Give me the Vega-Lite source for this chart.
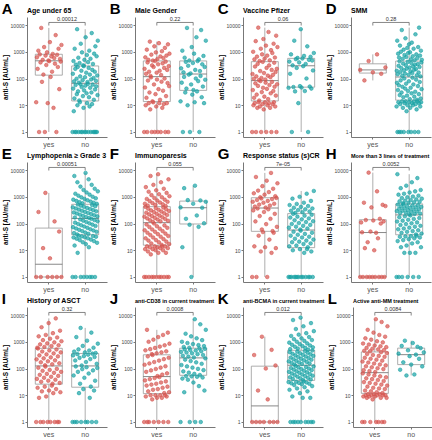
{
"$schema": "https://vega.github.io/schema/vega-lite/v6.json",
"padding": {"left": 1, "top": 2, "right": 0, "bottom": 0},
"background": "white",
"config": {
 "font": "Liberation Sans",
 "view": {"stroke": null},
 "concat": {"spacing": 2},
 "scale": {"bandPaddingInner": 0, "bandPaddingOuter": 0.1},
 "range": {"category": ["#19a3a5", "#d65550"]},
 "title": {"anchor": "start", "frame": "group", "fontSize": 7, "fontWeight": "bold", "color": "#000", "offset": -11.8, "baseline": "alphabetic"},
 "axis": {"grid": false, "domainColor": "#777", "tickColor": "#777", "tickSize": 2},
 "axisY": {"labelFontSize": 5, "labelColor": "#444", "labelPadding": 1, "titleFontSize": 6.5, "titleColor": "#000", "titleFontWeight": "bold", "titlePadding": 2},
 "axisX": {"labelFontSize": 7, "labelColor": "#555", "labelAngle": 0, "labelPadding": 1},
 "boxplot": {"extent": "min-max", "size": 27, "outliers": false, "box": {"fill": "white", "stroke": "#999", "strokeWidth": 0.8}, "median": {"color": "#555", "strokeWidth": 1.2}, "rule": {"color": "#999", "strokeWidth": 0.8}},
 "circle": {"size": 13, "fillOpacity": 0.7, "strokeWidth": 0.6},
 "style": {"br": {"color": "#555", "strokeWidth": 0.7}, "pv": {"fontSize": 5.5, "color": "#333", "baseline": "alphabetic", "dy": -1.7}, "lt": {"fontSize": 15, "fontWeight": "bold", "color": "#000", "align": "left", "baseline": "alphabetic", "dx": -29, "dy": -2.7}}
},
"datasets": {
"A": [{"g":"yes","v":13},{"g":"yes","v":620},{"g":"yes","v":230},{"g":"yes","v":1100},{"g":"yes","v":1},{"g":"yes","v":800},{"g":"yes","v":400},{"g":"yes","v":7800},{"g":"yes","v":75},{"g":"yes","v":500},{"g":"yes","v":140},{"g":"yes","v":1500},{"g":"yes","v":1},{"g":"yes","v":720},{"g":"yes","v":320},{"g":"yes","v":950},{"g":"yes","v":12},{"g":"yes","v":475},{"g":"yes","v":445},{"g":"yes","v":2300},{"g":"yes","v":115},{"g":"yes","v":670},{"g":"yes","v":180},{"g":"yes","v":830},{"g":"yes","v":8},{"g":"yes","v":580},{"g":"yes","v":360},{"g":"yes","v":4200},{"g":"yes","v":1},{"g":"yes","v":770},{"g":"yes","v":270},{"g":"yes","v":1300},{"g":"yes","v":40},{"g":"yes","v":540},{"g":"yes","v":430},{"g":"yes","v":1800},
{"g":"no","v":1},{"g":"no","v":150},{"g":"no","v":42},{"g":"no","v":450},{"g":"no","v":6},{"g":"no","v":78},{"g":"no","v":18},{"g":"no","v":1300},{"g":"no","v":1},{"g":"no","v":230},{"g":"no","v":57},{"g":"no","v":330},{"g":"no","v":1},{"g":"no","v":98},{"g":"no","v":26},{"g":"no","v":7000},{"g":"no","v":10},{"g":"no","v":270},{"g":"no","v":33},{"g":"no","v":600},{"g":"no","v":1},{"g":"no","v":70},{"g":"no","v":15},{"g":"no","v":380},{"g":"no","v":13},{"g":"no","v":120},{"g":"no","v":61},{"g":"no","v":2000},{"g":"no","v":1},{"g":"no","v":195},{"g":"no","v":48},{"g":"no","v":950},{"g":"no","v":1},{"g":"no","v":87},{"g":"no","v":22},{"g":"no","v":310},{"g":"no","v":8},{"g":"no","v":290},{"g":"no","v":36},{"g":"no","v":500},{"g":"no","v":1},{"g":"no","v":112},{"g":"no","v":54},{"g":"no","v":3500},{"g":"no","v":1},{"g":"no","v":165},{"g":"no","v":28},{"g":"no","v":760},{"g":"no","v":12},{"g":"no","v":74},{"g":"no","v":63},{"g":"no","v":410},{"g":"no","v":1},{"g":"no","v":250},{"g":"no","v":20},{"g":"no","v":1100},{"g":"no","v":9},{"g":"no","v":140},{"g":"no","v":45},{"g":"no","v":550},{"g":"no","v":1},{"g":"no","v":92},{"g":"no","v":30},{"g":"no","v":5000},{"g":"no","v":11},{"g":"no","v":210},{"g":"no","v":59},{"g":"no","v":350},{"g":"no","v":1},{"g":"no","v":105},{"g":"no","v":16},{"g":"no","v":850},{"g":"no","v":1},{"g":"no","v":180},{"g":"no","v":39},{"g":"no","v":1600},{"g":"no","v":1},{"g":"no","v":82},{"g":"no","v":51},{"g":"no","v":680},{"g":"no","v":1},{"g":"no","v":130},{"g":"no","v":24},{"g":"no","v":2600}],
"B": [{"g":"yes","v":1},{"g":"yes","v":230},{"g":"yes","v":46},{"g":"yes","v":620},{"g":"yes","v":10},{"g":"yes","v":150},{"g":"yes","v":19},{"g":"yes","v":1200},{"g":"yes","v":1},{"g":"yes","v":400},{"g":"yes","v":84},{"g":"yes","v":500},{"g":"yes","v":12},{"g":"yes","v":180},{"g":"yes","v":30},{"g":"yes","v":2400},{"g":"yes","v":7},{"g":"yes","v":125},{"g":"yes","v":110},{"g":"yes","v":780},{"g":"yes","v":1},{"g":"yes","v":310},{"g":"yes","v":14},{"g":"yes","v":470},{"g":"yes","v":13},{"g":"yes","v":270},{"g":"yes","v":60},{"g":"yes","v":1600},{"g":"yes","v":1},{"g":"yes","v":450},{"g":"yes","v":26},{"g":"yes","v":950},{"g":"yes","v":9},{"g":"yes","v":165},{"g":"yes","v":92},{"g":"yes","v":540},{"g":"yes","v":1},{"g":"yes","v":340},{"g":"yes","v":40},{"g":"yes","v":2100},{"g":"yes","v":12},{"g":"yes","v":195},{"g":"yes","v":16},{"g":"yes","v":670},{"g":"yes","v":1},{"g":"yes","v":135},{"g":"yes","v":76},{"g":"yes","v":1050},{"g":"yes","v":8},{"g":"yes","v":370},{"g":"yes","v":35},{"g":"yes","v":580},{"g":"yes","v":11},{"g":"yes","v":250},{"g":"yes","v":100},{"g":"yes","v":1400},{"g":"yes","v":1},{"g":"yes","v":430},{"g":"yes","v":22},{"g":"yes","v":720},{"g":"yes","v":12},{"g":"yes","v":210},{"g":"yes","v":68},{"g":"yes","v":1900},{"g":"yes","v":1},{"g":"yes","v":290},{"g":"yes","v":52},{"g":"yes","v":850},
{"g":"no","v":14},{"g":"no","v":240},{"g":"no","v":70},{"g":"no","v":1100},{"g":"no","v":1},{"g":"no","v":170},{"g":"no","v":115},{"g":"no","v":600},{"g":"no","v":30},{"g":"no","v":420},{"g":"no","v":42},{"g":"no","v":7800},{"g":"no","v":10},{"g":"no","v":300},{"g":"no","v":140},{"g":"no","v":470},{"g":"no","v":1},{"g":"no","v":155},{"g":"no","v":60},{"g":"no","v":1500},{"g":"no","v":25},{"g":"no","v":380},{"g":"no","v":37},{"g":"no","v":850},{"g":"no","v":13},{"g":"no","v":210},{"g":"no","v":100},{"g":"no","v":3500},{"g":"no","v":33},{"g":"no","v":450},{"g":"no","v":80},{"g":"no","v":520},{"g":"no","v":1},{"g":"no","v":190},{"g":"no","v":125},{"g":"no","v":6500},{"g":"no","v":20},{"g":"no","v":340},{"g":"no","v":50},{"g":"no","v":700},{"g":"no","v":12},{"g":"no","v":270},{"g":"no","v":90},{"g":"no","v":2600}],
"C": [{"g":"yes","v":1},{"g":"yes","v":147},{"g":"yes","v":37},{"g":"yes","v":1000},{"g":"yes","v":10},{"g":"yes","v":98},{"g":"yes","v":19},{"g":"yes","v":520},{"g":"yes","v":12},{"g":"yes","v":280},{"g":"yes","v":66},{"g":"yes","v":2500},{"g":"yes","v":1},{"g":"yes","v":120},{"g":"yes","v":25},{"g":"yes","v":660},{"g":"yes","v":8},{"g":"yes","v":350},{"g":"yes","v":53},{"g":"yes","v":8000},{"g":"yes","v":13},{"g":"yes","v":87},{"g":"yes","v":15},{"g":"yes","v":450},{"g":"yes","v":9},{"g":"yes","v":190},{"g":"yes","v":80},{"g":"yes","v":1300},{"g":"yes","v":1},{"g":"yes","v":105},{"g":"yes","v":31},{"g":"yes","v":800},{"g":"yes","v":11},{"g":"yes","v":420},{"g":"yes","v":45},{"g":"yes","v":3000},{"g":"yes","v":7},{"g":"yes","v":160},{"g":"yes","v":21},{"g":"yes","v":560},{"g":"yes","v":13},{"g":"yes","v":92},{"g":"yes","v":70},{"g":"yes","v":1700},{"g":"yes","v":1},{"g":"yes","v":250},{"g":"yes","v":41},{"g":"yes","v":720},{"g":"yes","v":10},{"g":"yes","v":128},{"g":"yes","v":17},{"g":"yes","v":5500},{"g":"yes","v":12},{"g":"yes","v":310},{"g":"yes","v":57},{"g":"yes","v":480},{"g":"yes","v":8},{"g":"yes","v":112},{"g":"yes","v":28},{"g":"yes","v":1150},{"g":"yes","v":1},{"g":"yes","v":210},{"g":"yes","v":75},{"g":"yes","v":900},{"g":"yes","v":11},{"g":"yes","v":137},{"g":"yes","v":34},{"g":"yes","v":2000},{"g":"yes","v":13},{"g":"yes","v":390},{"g":"yes","v":49},{"g":"yes","v":610},{"g":"yes","v":9},{"g":"yes","v":175},{"g":"yes","v":23},{"g":"yes","v":4000},{"g":"yes","v":1},{"g":"yes","v":230},{"g":"yes","v":61},{"g":"yes","v":1500},
{"g":"no","v":45},{"g":"no","v":430},{"g":"no","v":150},{"g":"no","v":800},{"g":"no","v":1},{"g":"no","v":310},{"g":"no","v":48},{"g":"no","v":2600},{"g":"no","v":33},{"g":"no","v":530},{"g":"no","v":250},{"g":"no","v":590},{"g":"no","v":12},{"g":"no","v":400},{"g":"no","v":52},{"g":"no","v":7000},{"g":"no","v":46},{"g":"no","v":560},{"g":"no","v":290},{"g":"no","v":700},{"g":"no","v":34},{"g":"no","v":350},{"g":"no","v":100},{"g":"no","v":1600},{"g":"no","v":1},{"g":"no","v":500},{"g":"no","v":50},{"g":"no","v":650},{"g":"no","v":42},{"g":"no","v":470},{"g":"no","v":200},{"g":"no","v":900}],
"D": [{"g":"yes","v":210},{"g":"yes","v":85},{"g":"yes","v":450},{"g":"yes","v":170},{"g":"yes","v":800},{"g":"yes","v":150},{"g":"yes","v":260},
{"g":"no","v":9},{"g":"no","v":194},{"g":"no","v":69},{"g":"no","v":2600},{"g":"no","v":1},{"g":"no","v":145},{"g":"no","v":37},{"g":"no","v":850},{"g":"no","v":13},{"g":"no","v":298},{"g":"no","v":56},{"g":"no","v":610},{"g":"no","v":1},{"g":"no","v":440},{"g":"no","v":24},{"g":"no","v":1700},{"g":"no","v":11},{"g":"no","v":176},{"g":"no","v":85},{"g":"no","v":1000},{"g":"no","v":1},{"g":"no","v":246},{"g":"no","v":30},{"g":"no","v":6500},{"g":"no","v":14},{"g":"no","v":126},{"g":"no","v":49},{"g":"no","v":550},{"g":"no","v":8},{"g":"no","v":361},{"g":"no","v":20},{"g":"no","v":1200},{"g":"no","v":1},{"g":"no","v":203},{"g":"no","v":100},{"g":"no","v":760},{"g":"no","v":12},{"g":"no","v":152},{"g":"no","v":42},{"g":"no","v":3200},{"g":"no","v":14},{"g":"no","v":313},{"g":"no","v":64},{"g":"no","v":640},{"g":"no","v":6},{"g":"no","v":235},{"g":"no","v":23},{"g":"no","v":1400},{"g":"no","v":10},{"g":"no","v":418},{"g":"no","v":34},{"g":"no","v":900},{"g":"no","v":1},{"g":"no","v":138},{"g":"no","v":79},{"g":"no","v":1900},{"g":"no","v":13},{"g":"no","v":258},{"g":"no","v":17},{"g":"no","v":960},{"g":"no","v":8},{"g":"no","v":185},{"g":"no","v":45},{"g":"no","v":520},{"g":"no","v":1},{"g":"no","v":379},{"g":"no","v":28},{"g":"no","v":2200},{"g":"no","v":12},{"g":"no","v":160},{"g":"no","v":108},{"g":"no","v":680},{"g":"no","v":10},{"g":"no","v":284},{"g":"no","v":60},{"g":"no","v":1300},{"g":"no","v":14},{"g":"no","v":213},{"g":"no","v":21},{"g":"no","v":480},{"g":"no","v":1},{"g":"no","v":328},{"g":"no","v":32},{"g":"no","v":4500},{"g":"no","v":11},{"g":"no","v":224},{"g":"no","v":91},{"g":"no","v":800},{"g":"no","v":7},{"g":"no","v":132},{"g":"no","v":16},{"g":"no","v":580},{"g":"no","v":14},{"g":"no","v":344},{"g":"no","v":52},{"g":"no","v":1500},{"g":"no","v":1},{"g":"no","v":168},{"g":"no","v":26},{"g":"no","v":8000},{"g":"no","v":12},{"g":"no","v":271},{"g":"no","v":74},{"g":"no","v":720},{"g":"no","v":9},{"g":"no","v":120},{"g":"no","v":18},{"g":"no","v":1100},{"g":"no","v":13},{"g":"no","v":398},{"g":"no","v":40},{"g":"no","v":500}],
"E": [{"g":"yes","v":1},{"g":"yes","v":270},{"g":"yes","v":1},{"g":"yes","v":12},{"g":"yes","v":1400},{"g":"yes","v":1},{"g":"yes","v":5},{"g":"yes","v":1},{"g":"yes","v":120},{"g":"yes","v":1},{"g":"yes","v":50},{"g":"yes","v":1},
{"g":"no","v":1},{"g":"no","v":403},{"g":"no","v":73},{"g":"no","v":780},{"g":"no","v":30},{"g":"no","v":260},{"g":"no","v":44},{"g":"no","v":6000},{"g":"no","v":15},{"g":"no","v":168},{"g":"no","v":108},{"g":"no","v":1300},{"g":"no","v":1},{"g":"no","v":366},{"g":"no","v":65},{"g":"no","v":700},{"g":"no","v":27},{"g":"no","v":236},{"g":"no","v":39},{"g":"no","v":3500},{"g":"no","v":8},{"g":"no","v":515},{"g":"no","v":96},{"g":"no","v":1100},{"g":"no","v":35},{"g":"no","v":332},{"g":"no","v":58},{"g":"no","v":630},{"g":"no","v":24},{"g":"no","v":214},{"g":"no","v":143},{"g":"no","v":2400},{"g":"no","v":1},{"g":"no","v":467},{"g":"no","v":86},{"g":"no","v":950},{"g":"no","v":33},{"g":"no","v":301},{"g":"no","v":52},{"g":"no","v":570},{"g":"no","v":20},{"g":"no","v":194},{"g":"no","v":128},{"g":"no","v":1800},{"g":"no","v":1},{"g":"no","v":423},{"g":"no","v":77},{"g":"no","v":830},{"g":"no","v":31},{"g":"no","v":273},{"g":"no","v":46},{"g":"no","v":7800},{"g":"no","v":17},{"g":"no","v":176},{"g":"no","v":114},{"g":"no","v":1450},{"g":"no","v":1},{"g":"no","v":384},{"g":"no","v":69},{"g":"no","v":740},{"g":"no","v":28},{"g":"no","v":248},{"g":"no","v":41},{"g":"no","v":4500},{"g":"no","v":13},{"g":"no","v":160},{"g":"no","v":102},{"g":"no","v":1200},{"g":"no","v":1},{"g":"no","v":349},{"g":"no","v":61},{"g":"no","v":660},{"g":"no","v":25},{"g":"no","v":225},{"g":"no","v":150},{"g":"no","v":2800},{"g":"no","v":1},{"g":"no","v":490},{"g":"no","v":91},{"g":"no","v":1000},{"g":"no","v":34},{"g":"no","v":316},{"g":"no","v":55},{"g":"no","v":600},{"g":"no","v":22},{"g":"no","v":204},{"g":"no","v":135},{"g":"no","v":2000},{"g":"no","v":1},{"g":"no","v":444},{"g":"no","v":81},{"g":"no","v":880},{"g":"no","v":32},{"g":"no","v":287},{"g":"no","v":49},{"g":"no","v":545},{"g":"no","v":19},{"g":"no","v":185},{"g":"no","v":121},{"g":"no","v":1600}],
"F": [{"g":"yes","v":1},{"g":"yes","v":180},{"g":"yes","v":56},{"g":"yes","v":550},{"g":"yes","v":11},{"g":"yes","v":420},{"g":"yes","v":28},{"g":"yes","v":2300},{"g":"yes","v":1},{"g":"yes","v":254},{"g":"yes","v":92},{"g":"yes","v":830},{"g":"yes","v":14},{"g":"yes","v":155},{"g":"yes","v":45},{"g":"yes","v":470},{"g":"yes","v":9},{"g":"yes","v":360},{"g":"yes","v":23},{"g":"yes","v":1550},{"g":"yes","v":1},{"g":"yes","v":219},{"g":"yes","v":74},{"g":"yes","v":690},{"g":"yes","v":13},{"g":"yes","v":133},{"g":"yes","v":37},{"g":"yes","v":6000},{"g":"yes","v":7},{"g":"yes","v":310},{"g":"yes","v":18},{"g":"yes","v":1150},{"g":"yes","v":1},{"g":"yes","v":189},{"g":"yes","v":60},{"g":"yes","v":580},{"g":"yes","v":11},{"g":"yes","v":115},{"g":"yes","v":30},{"g":"yes","v":2800},{"g":"yes","v":1},{"g":"yes","v":267},{"g":"yes","v":100},{"g":"yes","v":900},{"g":"yes","v":14},{"g":"yes","v":163},{"g":"yes","v":49},{"g":"yes","v":500},{"g":"yes","v":10},{"g":"yes","v":378},{"g":"yes","v":24},{"g":"yes","v":1750},{"g":"yes","v":1},{"g":"yes","v":230},{"g":"yes","v":79},{"g":"yes","v":730},{"g":"yes","v":13},{"g":"yes","v":140},{"g":"yes","v":40},{"g":"yes","v":7000},{"g":"yes","v":8},{"g":"yes","v":326},{"g":"yes","v":20},{"g":"yes","v":1250},{"g":"yes","v":1},{"g":"yes","v":198},{"g":"yes","v":64},{"g":"yes","v":610},{"g":"yes","v":12},{"g":"yes","v":121},{"g":"yes","v":32},{"g":"yes","v":3500},{"g":"yes","v":1},{"g":"yes","v":281},{"g":"yes","v":16},{"g":"yes","v":960},{"g":"yes","v":14},{"g":"yes","v":171},{"g":"yes","v":52},{"g":"yes","v":520},{"g":"yes","v":10},{"g":"yes","v":398},{"g":"yes","v":26},{"g":"yes","v":2000},{"g":"yes","v":1},{"g":"yes","v":242},{"g":"yes","v":85},{"g":"yes","v":780},{"g":"yes","v":14},{"g":"yes","v":147},{"g":"yes","v":42},{"g":"yes","v":450},{"g":"yes","v":8},{"g":"yes","v":342},{"g":"yes","v":21},{"g":"yes","v":1400},{"g":"yes","v":1},{"g":"yes","v":208},{"g":"yes","v":69},{"g":"yes","v":650},{"g":"yes","v":12},{"g":"yes","v":127},{"g":"yes","v":34},{"g":"yes","v":4500},{"g":"yes","v":1},{"g":"yes","v":295},{"g":"yes","v":17},{"g":"yes","v":1050},
{"g":"no","v":400},{"g":"no","v":13},{"g":"no","v":2100},{"g":"no","v":150},{"g":"no","v":750},{"g":"no","v":90},{"g":"no","v":1},{"g":"no","v":550},{"g":"no","v":2600},{"g":"no","v":200},{"g":"no","v":75},{"g":"no","v":730},{"g":"no","v":390},{"g":"no","v":102},{"g":"no","v":650}],
"G": [{"g":"yes","v":1},{"g":"yes","v":650},{"g":"yes","v":310},{"g":"yes","v":1350},{"g":"yes","v":14},{"g":"yes","v":430},{"g":"yes","v":120},{"g":"yes","v":5500},{"g":"yes","v":1},{"g":"yes","v":760},{"g":"yes","v":365},{"g":"yes","v":1700},{"g":"yes","v":35},{"g":"yes","v":510},{"g":"yes","v":190},{"g":"yes","v":960},{"g":"yes","v":9},{"g":"yes","v":870},{"g":"yes","v":60},{"g":"yes","v":2500},{"g":"yes","v":48},{"g":"yes","v":600},{"g":"yes","v":270},{"g":"yes","v":1200},{"g":"yes","v":13},{"g":"yes","v":395},{"g":"yes","v":95},{"g":"yes","v":4000},{"g":"yes","v":1},{"g":"yes","v":700},{"g":"yes","v":340},{"g":"yes","v":1500},{"g":"yes","v":25},{"g":"yes","v":470},{"g":"yes","v":150},{"g":"yes","v":7800},{"g":"yes","v":8},{"g":"yes","v":820},{"g":"yes","v":52},{"g":"yes","v":2000},{"g":"yes","v":45},{"g":"yes","v":550},{"g":"yes","v":230},{"g":"yes","v":1050},{"g":"yes","v":12},{"g":"yes","v":910},{"g":"yes","v":75},{"g":"yes","v":3200},
{"g":"no","v":1},{"g":"no","v":70},{"g":"no","v":14},{"g":"no","v":490},{"g":"no","v":1},{"g":"no","v":167},{"g":"no","v":35},{"g":"no","v":300},{"g":"no","v":1},{"g":"no","v":96},{"g":"no","v":20},{"g":"no","v":850},{"g":"no","v":10},{"g":"no","v":230},{"g":"no","v":49},{"g":"no","v":390},{"g":"no","v":1},{"g":"no","v":132},{"g":"no","v":27},{"g":"no","v":250},{"g":"no","v":1},{"g":"no","v":76},{"g":"no","v":15},{"g":"no","v":540},{"g":"no","v":1},{"g":"no","v":181},{"g":"no","v":38},{"g":"no","v":320},{"g":"no","v":1},{"g":"no","v":104},{"g":"no","v":21},{"g":"no","v":1000},{"g":"no","v":11},{"g":"no","v":60},{"g":"no","v":54},{"g":"no","v":420},{"g":"no","v":1},{"g":"no","v":143},{"g":"no","v":30},{"g":"no","v":265},{"g":"no","v":1},{"g":"no","v":82},{"g":"no","v":17},{"g":"no","v":600},{"g":"no","v":8},{"g":"no","v":196},{"g":"no","v":41},{"g":"no","v":340},{"g":"no","v":1},{"g":"no","v":113},{"g":"no","v":23},{"g":"no","v":1300},{"g":"no","v":11},{"g":"no","v":65},{"g":"no","v":13},{"g":"no","v":450},{"g":"no","v":1},{"g":"no","v":155},{"g":"no","v":32},{"g":"no","v":280},{"g":"no","v":1},{"g":"no","v":89},{"g":"no","v":18},{"g":"no","v":700},{"g":"no","v":9},{"g":"no","v":212},{"g":"no","v":45},{"g":"no","v":365},{"g":"no","v":1},{"g":"no","v":122},{"g":"no","v":25},{"g":"no","v":1650}],
"H": [{"g":"yes","v":1},{"g":"yes","v":110},{"g":"yes","v":47},{"g":"yes","v":1},{"g":"yes","v":600},{"g":"yes","v":12},{"g":"yes","v":135},{"g":"yes","v":1},{"g":"yes","v":20},{"g":"yes","v":8000},{"g":"yes","v":1},{"g":"yes","v":50},{"g":"yes","v":400},{"g":"yes","v":1},{"g":"yes","v":130},{"g":"yes","v":10},{"g":"yes","v":1},{"g":"yes","v":45},{"g":"yes","v":1600},{"g":"yes","v":28},{"g":"yes","v":1},{"g":"yes","v":150},{"g":"yes","v":100},{"g":"yes","v":1},{"g":"yes","v":500},{"g":"yes","v":120},{"g":"yes","v":1},{"g":"yes","v":450},
{"g":"no","v":1},{"g":"no","v":291},{"g":"no","v":119},{"g":"no","v":7000},{"g":"no","v":22},{"g":"no","v":512},{"g":"no","v":61},{"g":"no","v":1200},{"g":"no","v":1},{"g":"no","v":356},{"g":"no","v":172},{"g":"no","v":680},{"g":"no","v":32},{"g":"no","v":248},{"g":"no","v":88},{"g":"no","v":2100},{"g":"no","v":13},{"g":"no","v":435},{"g":"no","v":45},{"g":"no","v":900},{"g":"no","v":1},{"g":"no","v":303},{"g":"no","v":128},{"g":"no","v":565},{"g":"no","v":24},{"g":"no","v":535},{"g":"no","v":65},{"g":"no","v":1300},{"g":"no","v":8},{"g":"no","v":371},{"g":"no","v":186},{"g":"no","v":720},{"g":"no","v":33},{"g":"no","v":258},{"g":"no","v":95},{"g":"no","v":2600},{"g":"no","v":15},{"g":"no","v":453},{"g":"no","v":49},{"g":"no","v":960},{"g":"no","v":1},{"g":"no","v":316},{"g":"no","v":138},{"g":"no","v":590},{"g":"no","v":26},{"g":"no","v":220},{"g":"no","v":70},{"g":"no","v":1450},{"g":"no","v":8},{"g":"no","v":386},{"g":"no","v":200},{"g":"no","v":760},{"g":"no","v":34},{"g":"no","v":269},{"g":"no","v":102},{"g":"no","v":3500},{"g":"no","v":18},{"g":"no","v":472},{"g":"no","v":52},{"g":"no","v":1020},{"g":"no","v":1},{"g":"no","v":329},{"g":"no","v":148},{"g":"no","v":620},{"g":"no","v":28},{"g":"no","v":229},{"g":"no","v":76},{"g":"no","v":1600},{"g":"no","v":8},{"g":"no","v":402},{"g":"no","v":39},{"g":"no","v":800},{"g":"no","v":35},{"g":"no","v":280},{"g":"no","v":110},{"g":"no","v":5000},{"g":"no","v":20},{"g":"no","v":491},{"g":"no","v":56},{"g":"no","v":1100},{"g":"no","v":1},{"g":"no","v":342},{"g":"no","v":160},{"g":"no","v":650},{"g":"no","v":30},{"g":"no","v":238},{"g":"no","v":82},{"g":"no","v":1800},{"g":"no","v":13},{"g":"no","v":418},{"g":"no","v":42},{"g":"no","v":850}],
"I": [{"g":"yes","v":1},{"g":"yes","v":220},{"g":"yes","v":41},{"g":"yes","v":600},{"g":"yes","v":19},{"g":"yes","v":560},{"g":"yes","v":107},{"g":"yes","v":1600},{"g":"yes","v":8},{"g":"yes","v":310},{"g":"yes","v":58},{"g":"yes","v":800},{"g":"yes","v":1},{"g":"yes","v":171},{"g":"yes","v":32},{"g":"yes","v":3500},{"g":"yes","v":14},{"g":"yes","v":435},{"g":"yes","v":82},{"g":"yes","v":1150},{"g":"yes","v":1},{"g":"yes","v":240},{"g":"yes","v":45},{"g":"yes","v":640},{"g":"yes","v":21},{"g":"yes","v":132},{"g":"yes","v":118},{"g":"yes","v":1800},{"g":"yes","v":9},{"g":"yes","v":337},{"g":"yes","v":63},{"g":"yes","v":870},{"g":"yes","v":1},{"g":"yes","v":186},{"g":"yes","v":35},{"g":"yes","v":5000},{"g":"yes","v":15},{"g":"yes","v":474},{"g":"yes","v":89},{"g":"yes","v":1300},{"g":"yes","v":1},{"g":"yes","v":261},{"g":"yes","v":49},{"g":"yes","v":690},{"g":"yes","v":23},{"g":"yes","v":144},{"g":"yes","v":27},{"g":"yes","v":2100},{"g":"yes","v":12},{"g":"yes","v":367},{"g":"yes","v":69},{"g":"yes","v":950},{"g":"yes","v":1},{"g":"yes","v":202},{"g":"yes","v":38},{"g":"yes","v":7500},{"g":"yes","v":17},{"g":"yes","v":516},{"g":"yes","v":97},{"g":"yes","v":1450},{"g":"yes","v":1},{"g":"yes","v":284},{"g":"yes","v":53},{"g":"yes","v":740},{"g":"yes","v":1},{"g":"yes","v":157},{"g":"yes","v":29},{"g":"yes","v":2600},{"g":"yes","v":13},{"g":"yes","v":400},{"g":"yes","v":75},{"g":"yes","v":1050},
{"g":"no","v":1},{"g":"no","v":310},{"g":"no","v":55},{"g":"no","v":430},{"g":"no","v":1},{"g":"no","v":200},{"g":"no","v":120},{"g":"no","v":1500},{"g":"no","v":1},{"g":"no","v":345},{"g":"no","v":75},{"g":"no","v":520},{"g":"no","v":12},{"g":"no","v":250},{"g":"no","v":27},{"g":"no","v":3300},{"g":"no","v":1},{"g":"no","v":130},{"g":"no","v":95},{"g":"no","v":700},{"g":"no","v":17},{"g":"no","v":290},{"g":"no","v":45},{"g":"no","v":400},{"g":"no","v":1},{"g":"no","v":175},{"g":"no","v":112},{"g":"no","v":1100},{"g":"no","v":1},{"g":"no","v":330},{"g":"no","v":65},{"g":"no","v":470},{"g":"no","v":8},{"g":"no","v":225},{"g":"no","v":21},{"g":"no","v":2200},{"g":"no","v":1},{"g":"no","v":360},{"g":"no","v":85},{"g":"no","v":600},{"g":"no","v":15},{"g":"no","v":270},{"g":"no","v":35},{"g":"no","v":380},{"g":"no","v":1},{"g":"no","v":150},{"g":"no","v":105},{"g":"no","v":850}],
"J": [{"g":"yes","v":1},{"g":"yes","v":138},{"g":"yes","v":36},{"g":"yes","v":480},{"g":"yes","v":9},{"g":"yes","v":75},{"g":"yes","v":23},{"g":"yes","v":2800},{"g":"yes","v":1},{"g":"yes","v":285},{"g":"yes","v":14},{"g":"yes","v":1000},{"g":"yes","v":1},{"g":"yes","v":155},{"g":"yes","v":40},{"g":"yes","v":530},{"g":"yes","v":10},{"g":"yes","v":85},{"g":"yes","v":25},{"g":"yes","v":345},{"g":"yes","v":7},{"g":"yes","v":320},{"g":"yes","v":16},{"g":"yes","v":1200},{"g":"yes","v":1},{"g":"yes","v":175},{"g":"yes","v":44},{"g":"yes","v":590},{"g":"yes","v":10},{"g":"yes","v":96},{"g":"yes","v":27},{"g":"yes","v":370},{"g":"yes","v":8},{"g":"yes","v":52},{"g":"yes","v":17},{"g":"yes","v":1500},{"g":"yes","v":1},{"g":"yes","v":198},{"g":"yes","v":48},{"g":"yes","v":660},{"g":"yes","v":10},{"g":"yes","v":108},{"g":"yes","v":30},{"g":"yes","v":400},{"g":"yes","v":8},{"g":"yes","v":59},{"g":"yes","v":19},{"g":"yes","v":1800},{"g":"yes","v":1},{"g":"yes","v":224},{"g":"yes","v":12},{"g":"yes","v":740},{"g":"yes","v":10},{"g":"yes","v":122},{"g":"yes","v":33},{"g":"yes","v":440},{"g":"yes","v":9},{"g":"yes","v":66},{"g":"yes","v":21},{"g":"yes","v":2200},{"g":"yes","v":1},{"g":"yes","v":252},{"g":"yes","v":13},{"g":"yes","v":850},
{"g":"no","v":1},{"g":"no","v":420},{"g":"no","v":135},{"g":"no","v":1000},{"g":"no","v":42},{"g":"no","v":300},{"g":"no","v":78},{"g":"no","v":640},{"g":"no","v":13},{"g":"no","v":520},{"g":"no","v":215},{"g":"no","v":2000},{"g":"no","v":52},{"g":"no","v":395},{"g":"no","v":120},{"g":"no","v":900},{"g":"no","v":38},{"g":"no","v":280},{"g":"no","v":70},{"g":"no","v":600},{"g":"no","v":1},{"g":"no","v":495},{"g":"no","v":190},{"g":"no","v":1600},{"g":"no","v":51},{"g":"no","v":370},{"g":"no","v":108},{"g":"no","v":820},{"g":"no","v":30},{"g":"no","v":260},{"g":"no","v":63},{"g":"no","v":7000},{"g":"no","v":1},{"g":"no","v":470},{"g":"no","v":170},{"g":"no","v":1350},{"g":"no","v":49},{"g":"no","v":345},{"g":"no","v":97},{"g":"no","v":750},{"g":"no","v":22},{"g":"no","v":565},{"g":"no","v":57},{"g":"no","v":4500},{"g":"no","v":1},{"g":"no","v":445},{"g":"no","v":150},{"g":"no","v":1150},{"g":"no","v":46},{"g":"no","v":320},{"g":"no","v":87},{"g":"no","v":690},{"g":"no","v":15},{"g":"no","v":545},{"g":"no","v":240},{"g":"no","v":2800}],
"K": [{"g":"yes","v":1},{"g":"yes","v":320},{"g":"yes","v":1},{"g":"yes","v":15},{"g":"yes","v":1},{"g":"yes","v":1550},{"g":"yes","v":1},{"g":"yes","v":100},{"g":"yes","v":7},{"g":"yes","v":1},{"g":"yes","v":500},{"g":"yes","v":1},{"g":"yes","v":130},{"g":"yes","v":1},
{"g":"no","v":31},{"g":"no","v":185},{"g":"no","v":75},{"g":"no","v":930},{"g":"no","v":16},{"g":"no","v":410},{"g":"no","v":47},{"g":"no","v":530},{"g":"no","v":1},{"g":"no","v":257},{"g":"no","v":105},{"g":"no","v":1650},{"g":"no","v":28},{"g":"no","v":161},{"g":"no","v":65},{"g":"no","v":770},{"g":"no","v":9},{"g":"no","v":357},{"g":"no","v":41},{"g":"no","v":6500},{"g":"no","v":1},{"g":"no","v":223},{"g":"no","v":91},{"g":"no","v":1250},{"g":"no","v":24},{"g":"no","v":140},{"g":"no","v":57},{"g":"no","v":650},{"g":"no","v":1},{"g":"no","v":310},{"g":"no","v":125},{"g":"no","v":3000},{"g":"no","v":32},{"g":"no","v":194},{"g":"no","v":79},{"g":"no","v":1000},{"g":"no","v":18},{"g":"no","v":430},{"g":"no","v":49},{"g":"no","v":560},{"g":"no","v":1},{"g":"no","v":269},{"g":"no","v":110},{"g":"no","v":1850},{"g":"no","v":29},{"g":"no","v":169},{"g":"no","v":69},{"g":"no","v":820},{"g":"no","v":12},{"g":"no","v":374},{"g":"no","v":43},{"g":"no","v":8000},{"g":"no","v":1},{"g":"no","v":234},{"g":"no","v":95},{"g":"no","v":1350},{"g":"no","v":26},{"g":"no","v":147},{"g":"no","v":60},{"g":"no","v":690},{"g":"no","v":8},{"g":"no","v":325},{"g":"no","v":37},{"g":"no","v":3800},{"g":"no","v":33},{"g":"no","v":203},{"g":"no","v":83},{"g":"no","v":1080},{"g":"no","v":20},{"g":"no","v":450},{"g":"no","v":52},{"g":"no","v":590},{"g":"no","v":1},{"g":"no","v":282},{"g":"no","v":115},{"g":"no","v":2100},{"g":"no","v":30},{"g":"no","v":177},{"g":"no","v":72},{"g":"no","v":870},{"g":"no","v":14},{"g":"no","v":392},{"g":"no","v":45},{"g":"no","v":510},{"g":"no","v":1},{"g":"no","v":245},{"g":"no","v":100},{"g":"no","v":1500},{"g":"no","v":27},{"g":"no","v":154},{"g":"no","v":62},{"g":"no","v":730},{"g":"no","v":8},{"g":"no","v":340},{"g":"no","v":39},{"g":"no","v":5000},{"g":"no","v":1},{"g":"no","v":213},{"g":"no","v":87},{"g":"no","v":1160},{"g":"no","v":22},{"g":"no","v":470},{"g":"no","v":54},{"g":"no","v":620},{"g":"no","v":1},{"g":"no","v":296},{"g":"no","v":120},{"g":"no","v":2500}],
"L": [{"g":"yes","v":1},{"g":"yes","v":182},{"g":"yes","v":66},{"g":"yes","v":860},{"g":"yes","v":9},{"g":"yes","v":87},{"g":"yes","v":31},{"g":"yes","v":460},{"g":"yes","v":1},{"g":"yes","v":252},{"g":"yes","v":15},{"g":"yes","v":1350},{"g":"yes","v":10},{"g":"yes","v":121},{"g":"yes","v":43},{"g":"yes","v":590},{"g":"yes","v":8},{"g":"yes","v":349},{"g":"yes","v":21},{"g":"yes","v":2800},{"g":"yes","v":11},{"g":"yes","v":167},{"g":"yes","v":60},{"g":"yes","v":790},{"g":"yes","v":9},{"g":"yes","v":80},{"g":"yes","v":29},{"g":"yes","v":440},{"g":"yes","v":1},{"g":"yes","v":232},{"g":"yes","v":14},{"g":"yes","v":1200},{"g":"yes","v":10},{"g":"yes","v":111},{"g":"yes","v":40},{"g":"yes","v":550},{"g":"yes","v":7},{"g":"yes","v":321},{"g":"yes","v":19},{"g":"yes","v":2200},{"g":"yes","v":11},{"g":"yes","v":154},{"g":"yes","v":55},{"g":"yes","v":730},{"g":"yes","v":9},{"g":"yes","v":74},{"g":"yes","v":27},{"g":"yes","v":7000},{"g":"yes","v":1},{"g":"yes","v":214},{"g":"yes","v":13},{"g":"yes","v":1050},{"g":"yes","v":10},{"g":"yes","v":103},{"g":"yes","v":37},{"g":"yes","v":520},{"g":"yes","v":1},{"g":"yes","v":296},{"g":"yes","v":18},{"g":"yes","v":1800},{"g":"yes","v":11},{"g":"yes","v":142},{"g":"yes","v":51},{"g":"yes","v":680},{"g":"yes","v":8},{"g":"yes","v":410},{"g":"yes","v":25},{"g":"yes","v":5500},{"g":"yes","v":1},{"g":"yes","v":197},{"g":"yes","v":12},{"g":"yes","v":950},{"g":"yes","v":10},{"g":"yes","v":95},{"g":"yes","v":34},{"g":"yes","v":490},{"g":"yes","v":1},{"g":"yes","v":273},{"g":"yes","v":17},{"g":"yes","v":1550},{"g":"yes","v":10},{"g":"yes","v":131},{"g":"yes","v":47},{"g":"yes","v":630},{"g":"yes","v":8},{"g":"yes","v":378},{"g":"yes","v":23},{"g":"yes","v":3800},
{"g":"no","v":360},{"g":"no","v":90},{"g":"no","v":700},{"g":"no","v":170},{"g":"no","v":1100},{"g":"no","v":55},{"g":"no","v":480},{"g":"no","v":290},{"g":"no","v":140},{"g":"no","v":900},{"g":"no","v":60},{"g":"no","v":330},{"g":"no","v":650},{"g":"no","v":230},{"g":"no","v":580},{"g":"no","v":120},{"g":"no","v":400}]
},
"spacing": 0,
"vconcat": [
{"hconcat": [
{"title": {"text": "Age under 65"}, "width": 80, "height": 120, "layer": [
 {"data": {"name": "A"}, "encoding": {"x": {"field": "g", "type": "nominal", "sort": "descending", "title": null}, "y": {"field": "v", "type": "quantitative", "scale": {"type": "log", "domain": [0.65, 20000], "nice": false}, "axis": {"values": [1, 10, 100, 1000, 10000], "format": "d"}, "title": "anti-S [AU/mL]"}},
  "layer": [{"mark": "boxplot"}, {"transform": [{"window": [{"op": "row_number", "as": "r"}], "groupby": ["g"]}, {"window": [{"op": "percent_rank", "as": "jit"}], "sort": [{"field": "r"}], "groupby": ["g"]}], "mark": "circle", "encoding": {"xOffset": {"field": "jit", "type": "quantitative", "scale": {"domain": [-0.22, 1.22]}}, "color": {"field": "g", "type": "nominal", "legend": null}, "stroke": {"field": "g", "type": "nominal", "legend": null}}}]},
 {"data": {"values": [{"p": "0.00012", "t": "A"}]}, "layer": [
  {"mark": {"type": "rule", "style": "br"}, "encoding": {"x": {"datum": "yes"}, "x2": {"datum": "no"}, "y": {"datum": 12500}}},
  {"mark": {"type": "rule", "style": "br"}, "encoding": {"x": {"datum": "yes"}, "y": {"datum": 12500}, "y2": {"datum": 9600}}},
  {"mark": {"type": "rule", "style": "br"}, "encoding": {"x": {"datum": "no"}, "y": {"datum": 12500}, "y2": {"datum": 9600}}},
  {"mark": {"type": "text", "style": "pv"}, "encoding": {"x": {"datum": "yes", "bandPosition": 1}, "y": {"datum": 12500}, "text": {"field": "p"}}},
  {"mark": {"type": "text", "style": "lt"}, "encoding": {"x": {"datum": "yes", "bandPosition": 0}, "y": {"datum": 20000}, "text": {"field": "t"}}}
 ]}
]},
{"title": {"text": "Male Gender"}, "width": 80, "height": 120, "layer": [
 {"data": {"name": "B"}, "encoding": {"x": {"field": "g", "type": "nominal", "sort": "descending", "title": null}, "y": {"field": "v", "type": "quantitative", "scale": {"type": "log", "domain": [0.65, 20000], "nice": false}, "axis": {"values": [1, 10, 100, 1000, 10000], "format": "d"}, "title": "anti-S [AU/mL]"}},
  "layer": [{"mark": "boxplot"}, {"transform": [{"window": [{"op": "row_number", "as": "r"}], "groupby": ["g"]}, {"window": [{"op": "percent_rank", "as": "jit"}], "sort": [{"field": "r"}], "groupby": ["g"]}], "mark": "circle", "encoding": {"xOffset": {"field": "jit", "type": "quantitative", "scale": {"domain": [-0.22, 1.22]}}, "color": {"field": "g", "type": "nominal", "legend": null}, "stroke": {"field": "g", "type": "nominal", "legend": null}}}]},
 {"data": {"values": [{"p": "0.22", "t": "B"}]}, "layer": [
  {"mark": {"type": "rule", "style": "br"}, "encoding": {"x": {"datum": "yes"}, "x2": {"datum": "no"}, "y": {"datum": 12500}}},
  {"mark": {"type": "rule", "style": "br"}, "encoding": {"x": {"datum": "yes"}, "y": {"datum": 12500}, "y2": {"datum": 9600}}},
  {"mark": {"type": "rule", "style": "br"}, "encoding": {"x": {"datum": "no"}, "y": {"datum": 12500}, "y2": {"datum": 9600}}},
  {"mark": {"type": "text", "style": "pv"}, "encoding": {"x": {"datum": "yes", "bandPosition": 1}, "y": {"datum": 12500}, "text": {"field": "p"}}},
  {"mark": {"type": "text", "style": "lt"}, "encoding": {"x": {"datum": "yes", "bandPosition": 0}, "y": {"datum": 20000}, "text": {"field": "t"}}}
 ]}
]},
{"title": {"text": "Vaccine Pfizer"}, "width": 80, "height": 120, "layer": [
 {"data": {"name": "C"}, "encoding": {"x": {"field": "g", "type": "nominal", "sort": "descending", "title": null}, "y": {"field": "v", "type": "quantitative", "scale": {"type": "log", "domain": [0.65, 20000], "nice": false}, "axis": {"values": [1, 10, 100, 1000, 10000], "format": "d"}, "title": "anti-S [AU/mL]"}},
  "layer": [{"mark": "boxplot"}, {"transform": [{"window": [{"op": "row_number", "as": "r"}], "groupby": ["g"]}, {"window": [{"op": "percent_rank", "as": "jit"}], "sort": [{"field": "r"}], "groupby": ["g"]}], "mark": "circle", "encoding": {"xOffset": {"field": "jit", "type": "quantitative", "scale": {"domain": [-0.22, 1.22]}}, "color": {"field": "g", "type": "nominal", "legend": null}, "stroke": {"field": "g", "type": "nominal", "legend": null}}}]},
 {"data": {"values": [{"p": "0.06", "t": "C"}]}, "layer": [
  {"mark": {"type": "rule", "style": "br"}, "encoding": {"x": {"datum": "yes"}, "x2": {"datum": "no"}, "y": {"datum": 12500}}},
  {"mark": {"type": "rule", "style": "br"}, "encoding": {"x": {"datum": "yes"}, "y": {"datum": 12500}, "y2": {"datum": 9600}}},
  {"mark": {"type": "rule", "style": "br"}, "encoding": {"x": {"datum": "no"}, "y": {"datum": 12500}, "y2": {"datum": 9600}}},
  {"mark": {"type": "text", "style": "pv"}, "encoding": {"x": {"datum": "yes", "bandPosition": 1}, "y": {"datum": 12500}, "text": {"field": "p"}}},
  {"mark": {"type": "text", "style": "lt"}, "encoding": {"x": {"datum": "yes", "bandPosition": 0}, "y": {"datum": 20000}, "text": {"field": "t"}}}
 ]}
]},
{"title": {"text": "SMM"}, "width": 80, "height": 120, "layer": [
 {"data": {"name": "D"}, "encoding": {"x": {"field": "g", "type": "nominal", "sort": "descending", "title": null}, "y": {"field": "v", "type": "quantitative", "scale": {"type": "log", "domain": [0.65, 20000], "nice": false}, "axis": {"values": [1, 10, 100, 1000, 10000], "format": "d"}, "title": "anti-S [AU/mL]"}},
  "layer": [{"mark": "boxplot"}, {"transform": [{"window": [{"op": "row_number", "as": "r"}], "groupby": ["g"]}, {"window": [{"op": "percent_rank", "as": "jit"}], "sort": [{"field": "r"}], "groupby": ["g"]}], "mark": "circle", "encoding": {"xOffset": {"field": "jit", "type": "quantitative", "scale": {"domain": [-0.22, 1.22]}}, "color": {"field": "g", "type": "nominal", "legend": null}, "stroke": {"field": "g", "type": "nominal", "legend": null}}}]},
 {"data": {"values": [{"p": "0.28", "t": "D"}]}, "layer": [
  {"mark": {"type": "rule", "style": "br"}, "encoding": {"x": {"datum": "yes"}, "x2": {"datum": "no"}, "y": {"datum": 12500}}},
  {"mark": {"type": "rule", "style": "br"}, "encoding": {"x": {"datum": "yes"}, "y": {"datum": 12500}, "y2": {"datum": 9600}}},
  {"mark": {"type": "rule", "style": "br"}, "encoding": {"x": {"datum": "no"}, "y": {"datum": 12500}, "y2": {"datum": 9600}}},
  {"mark": {"type": "text", "style": "pv"}, "encoding": {"x": {"datum": "yes", "bandPosition": 1}, "y": {"datum": 12500}, "text": {"field": "p"}}},
  {"mark": {"type": "text", "style": "lt"}, "encoding": {"x": {"datum": "yes", "bandPosition": 0}, "y": {"datum": 20000}, "text": {"field": "t"}}}
 ]}
]}
]},
{"hconcat": [
{"title": {"text": "Lymphopenia \u2265 Grade 3"}, "width": 80, "height": 120, "layer": [
 {"data": {"name": "E"}, "encoding": {"x": {"field": "g", "type": "nominal", "sort": "descending", "title": null}, "y": {"field": "v", "type": "quantitative", "scale": {"type": "log", "domain": [0.65, 20000], "nice": false}, "axis": {"values": [1, 10, 100, 1000, 10000], "format": "d"}, "title": "anti-S [AU/mL]"}},
  "layer": [{"mark": "boxplot"}, {"transform": [{"window": [{"op": "row_number", "as": "r"}], "groupby": ["g"]}, {"window": [{"op": "percent_rank", "as": "jit"}], "sort": [{"field": "r"}], "groupby": ["g"]}], "mark": "circle", "encoding": {"xOffset": {"field": "jit", "type": "quantitative", "scale": {"domain": [-0.22, 1.22]}}, "color": {"field": "g", "type": "nominal", "legend": null}, "stroke": {"field": "g", "type": "nominal", "legend": null}}}]},
 {"data": {"values": [{"p": "0.00051", "t": "E"}]}, "layer": [
  {"mark": {"type": "rule", "style": "br"}, "encoding": {"x": {"datum": "yes"}, "x2": {"datum": "no"}, "y": {"datum": 12500}}},
  {"mark": {"type": "rule", "style": "br"}, "encoding": {"x": {"datum": "yes"}, "y": {"datum": 12500}, "y2": {"datum": 9600}}},
  {"mark": {"type": "rule", "style": "br"}, "encoding": {"x": {"datum": "no"}, "y": {"datum": 12500}, "y2": {"datum": 9600}}},
  {"mark": {"type": "text", "style": "pv"}, "encoding": {"x": {"datum": "yes", "bandPosition": 1}, "y": {"datum": 12500}, "text": {"field": "p"}}},
  {"mark": {"type": "text", "style": "lt"}, "encoding": {"x": {"datum": "yes", "bandPosition": 0}, "y": {"datum": 20000}, "text": {"field": "t"}}}
 ]}
]},
{"title": {"text": "Immunoparesis"}, "width": 80, "height": 120, "layer": [
 {"data": {"name": "F"}, "encoding": {"x": {"field": "g", "type": "nominal", "sort": "descending", "title": null}, "y": {"field": "v", "type": "quantitative", "scale": {"type": "log", "domain": [0.65, 20000], "nice": false}, "axis": {"values": [1, 10, 100, 1000, 10000], "format": "d"}, "title": "anti-S [AU/mL]"}},
  "layer": [{"mark": "boxplot"}, {"transform": [{"window": [{"op": "row_number", "as": "r"}], "groupby": ["g"]}, {"window": [{"op": "percent_rank", "as": "jit"}], "sort": [{"field": "r"}], "groupby": ["g"]}], "mark": "circle", "encoding": {"xOffset": {"field": "jit", "type": "quantitative", "scale": {"domain": [-0.22, 1.22]}}, "color": {"field": "g", "type": "nominal", "legend": null}, "stroke": {"field": "g", "type": "nominal", "legend": null}}}]},
 {"data": {"values": [{"p": "0.055", "t": "F"}]}, "layer": [
  {"mark": {"type": "rule", "style": "br"}, "encoding": {"x": {"datum": "yes"}, "x2": {"datum": "no"}, "y": {"datum": 12500}}},
  {"mark": {"type": "rule", "style": "br"}, "encoding": {"x": {"datum": "yes"}, "y": {"datum": 12500}, "y2": {"datum": 9600}}},
  {"mark": {"type": "rule", "style": "br"}, "encoding": {"x": {"datum": "no"}, "y": {"datum": 12500}, "y2": {"datum": 9600}}},
  {"mark": {"type": "text", "style": "pv"}, "encoding": {"x": {"datum": "yes", "bandPosition": 1}, "y": {"datum": 12500}, "text": {"field": "p"}}},
  {"mark": {"type": "text", "style": "lt"}, "encoding": {"x": {"datum": "yes", "bandPosition": 0}, "y": {"datum": 20000}, "text": {"field": "t"}}}
 ]}
]},
{"title": {"text": "Response status (s)CR"}, "width": 80, "height": 120, "layer": [
 {"data": {"name": "G"}, "encoding": {"x": {"field": "g", "type": "nominal", "sort": "descending", "title": null}, "y": {"field": "v", "type": "quantitative", "scale": {"type": "log", "domain": [0.65, 20000], "nice": false}, "axis": {"values": [1, 10, 100, 1000, 10000], "format": "d"}, "title": "anti-S [AU/mL]"}},
  "layer": [{"mark": "boxplot"}, {"transform": [{"window": [{"op": "row_number", "as": "r"}], "groupby": ["g"]}, {"window": [{"op": "percent_rank", "as": "jit"}], "sort": [{"field": "r"}], "groupby": ["g"]}], "mark": "circle", "encoding": {"xOffset": {"field": "jit", "type": "quantitative", "scale": {"domain": [-0.22, 1.22]}}, "color": {"field": "g", "type": "nominal", "legend": null}, "stroke": {"field": "g", "type": "nominal", "legend": null}}}]},
 {"data": {"values": [{"p": "7e-05", "t": "G"}]}, "layer": [
  {"mark": {"type": "rule", "style": "br"}, "encoding": {"x": {"datum": "yes"}, "x2": {"datum": "no"}, "y": {"datum": 12500}}},
  {"mark": {"type": "rule", "style": "br"}, "encoding": {"x": {"datum": "yes"}, "y": {"datum": 12500}, "y2": {"datum": 9600}}},
  {"mark": {"type": "rule", "style": "br"}, "encoding": {"x": {"datum": "no"}, "y": {"datum": 12500}, "y2": {"datum": 9600}}},
  {"mark": {"type": "text", "style": "pv"}, "encoding": {"x": {"datum": "yes", "bandPosition": 1}, "y": {"datum": 12500}, "text": {"field": "p"}}},
  {"mark": {"type": "text", "style": "lt"}, "encoding": {"x": {"datum": "yes", "bandPosition": 0}, "y": {"datum": 20000}, "text": {"field": "t"}}}
 ]}
]},
{"title": {"text": "More than 3 lines of treatment", "fontSize": 5.5}, "width": 80, "height": 120, "layer": [
 {"data": {"name": "H"}, "encoding": {"x": {"field": "g", "type": "nominal", "sort": "descending", "title": null}, "y": {"field": "v", "type": "quantitative", "scale": {"type": "log", "domain": [0.65, 20000], "nice": false}, "axis": {"values": [1, 10, 100, 1000, 10000], "format": "d"}, "title": "anti-S [AU/mL]"}},
  "layer": [{"mark": "boxplot"}, {"transform": [{"window": [{"op": "row_number", "as": "r"}], "groupby": ["g"]}, {"window": [{"op": "percent_rank", "as": "jit"}], "sort": [{"field": "r"}], "groupby": ["g"]}], "mark": "circle", "encoding": {"xOffset": {"field": "jit", "type": "quantitative", "scale": {"domain": [-0.22, 1.22]}}, "color": {"field": "g", "type": "nominal", "legend": null}, "stroke": {"field": "g", "type": "nominal", "legend": null}}}]},
 {"data": {"values": [{"p": "0.0052", "t": "H"}]}, "layer": [
  {"mark": {"type": "rule", "style": "br"}, "encoding": {"x": {"datum": "yes"}, "x2": {"datum": "no"}, "y": {"datum": 12500}}},
  {"mark": {"type": "rule", "style": "br"}, "encoding": {"x": {"datum": "yes"}, "y": {"datum": 12500}, "y2": {"datum": 9600}}},
  {"mark": {"type": "rule", "style": "br"}, "encoding": {"x": {"datum": "no"}, "y": {"datum": 12500}, "y2": {"datum": 9600}}},
  {"mark": {"type": "text", "style": "pv"}, "encoding": {"x": {"datum": "yes", "bandPosition": 1}, "y": {"datum": 12500}, "text": {"field": "p"}}},
  {"mark": {"type": "text", "style": "lt"}, "encoding": {"x": {"datum": "yes", "bandPosition": 0}, "y": {"datum": 20000}, "text": {"field": "t"}}}
 ]}
]}
]},
{"hconcat": [
{"title": {"text": "History of ASCT"}, "width": 80, "height": 120, "layer": [
 {"data": {"name": "I"}, "encoding": {"x": {"field": "g", "type": "nominal", "sort": "descending", "title": null}, "y": {"field": "v", "type": "quantitative", "scale": {"type": "log", "domain": [0.65, 20000], "nice": false}, "axis": {"values": [1, 10, 100, 1000, 10000], "format": "d"}, "title": "anti-S [AU/mL]"}},
  "layer": [{"mark": "boxplot"}, {"transform": [{"window": [{"op": "row_number", "as": "r"}], "groupby": ["g"]}, {"window": [{"op": "percent_rank", "as": "jit"}], "sort": [{"field": "r"}], "groupby": ["g"]}], "mark": "circle", "encoding": {"xOffset": {"field": "jit", "type": "quantitative", "scale": {"domain": [-0.22, 1.22]}}, "color": {"field": "g", "type": "nominal", "legend": null}, "stroke": {"field": "g", "type": "nominal", "legend": null}}}]},
 {"data": {"values": [{"p": "0.32", "t": "I"}]}, "layer": [
  {"mark": {"type": "rule", "style": "br"}, "encoding": {"x": {"datum": "yes"}, "x2": {"datum": "no"}, "y": {"datum": 12500}}},
  {"mark": {"type": "rule", "style": "br"}, "encoding": {"x": {"datum": "yes"}, "y": {"datum": 12500}, "y2": {"datum": 9600}}},
  {"mark": {"type": "rule", "style": "br"}, "encoding": {"x": {"datum": "no"}, "y": {"datum": 12500}, "y2": {"datum": 9600}}},
  {"mark": {"type": "text", "style": "pv"}, "encoding": {"x": {"datum": "yes", "bandPosition": 1}, "y": {"datum": 12500}, "text": {"field": "p"}}},
  {"mark": {"type": "text", "style": "lt"}, "encoding": {"x": {"datum": "yes", "bandPosition": 0}, "y": {"datum": 20000}, "text": {"field": "t"}}}
 ]}
]},
{"title": {"text": "anti-CD38 in current treatment", "fontSize": 5.5}, "width": 80, "height": 120, "layer": [
 {"data": {"name": "J"}, "encoding": {"x": {"field": "g", "type": "nominal", "sort": "descending", "title": null}, "y": {"field": "v", "type": "quantitative", "scale": {"type": "log", "domain": [0.65, 20000], "nice": false}, "axis": {"values": [1, 10, 100, 1000, 10000], "format": "d"}, "title": "anti-S [AU/mL]"}},
  "layer": [{"mark": "boxplot"}, {"transform": [{"window": [{"op": "row_number", "as": "r"}], "groupby": ["g"]}, {"window": [{"op": "percent_rank", "as": "jit"}], "sort": [{"field": "r"}], "groupby": ["g"]}], "mark": "circle", "encoding": {"xOffset": {"field": "jit", "type": "quantitative", "scale": {"domain": [-0.22, 1.22]}}, "color": {"field": "g", "type": "nominal", "legend": null}, "stroke": {"field": "g", "type": "nominal", "legend": null}}}]},
 {"data": {"values": [{"p": "0.0008", "t": "J"}]}, "layer": [
  {"mark": {"type": "rule", "style": "br"}, "encoding": {"x": {"datum": "yes"}, "x2": {"datum": "no"}, "y": {"datum": 12500}}},
  {"mark": {"type": "rule", "style": "br"}, "encoding": {"x": {"datum": "yes"}, "y": {"datum": 12500}, "y2": {"datum": 9600}}},
  {"mark": {"type": "rule", "style": "br"}, "encoding": {"x": {"datum": "no"}, "y": {"datum": 12500}, "y2": {"datum": 9600}}},
  {"mark": {"type": "text", "style": "pv"}, "encoding": {"x": {"datum": "yes", "bandPosition": 1}, "y": {"datum": 12500}, "text": {"field": "p"}}},
  {"mark": {"type": "text", "style": "lt"}, "encoding": {"x": {"datum": "yes", "bandPosition": 0}, "y": {"datum": 20000}, "text": {"field": "t"}}}
 ]}
]},
{"title": {"text": "anti-BCMA in current treatment", "fontSize": 5.5}, "width": 80, "height": 120, "layer": [
 {"data": {"name": "K"}, "encoding": {"x": {"field": "g", "type": "nominal", "sort": "descending", "title": null}, "y": {"field": "v", "type": "quantitative", "scale": {"type": "log", "domain": [0.65, 20000], "nice": false}, "axis": {"values": [1, 10, 100, 1000, 10000], "format": "d"}, "title": "anti-S [AU/mL]"}},
  "layer": [{"mark": "boxplot"}, {"transform": [{"window": [{"op": "row_number", "as": "r"}], "groupby": ["g"]}, {"window": [{"op": "percent_rank", "as": "jit"}], "sort": [{"field": "r"}], "groupby": ["g"]}], "mark": "circle", "encoding": {"xOffset": {"field": "jit", "type": "quantitative", "scale": {"domain": [-0.22, 1.22]}}, "color": {"field": "g", "type": "nominal", "legend": null}, "stroke": {"field": "g", "type": "nominal", "legend": null}}}]},
 {"data": {"values": [{"p": "0.012", "t": "K"}]}, "layer": [
  {"mark": {"type": "rule", "style": "br"}, "encoding": {"x": {"datum": "yes"}, "x2": {"datum": "no"}, "y": {"datum": 12500}}},
  {"mark": {"type": "rule", "style": "br"}, "encoding": {"x": {"datum": "yes"}, "y": {"datum": 12500}, "y2": {"datum": 9600}}},
  {"mark": {"type": "rule", "style": "br"}, "encoding": {"x": {"datum": "no"}, "y": {"datum": 12500}, "y2": {"datum": 9600}}},
  {"mark": {"type": "text", "style": "pv"}, "encoding": {"x": {"datum": "yes", "bandPosition": 1}, "y": {"datum": 12500}, "text": {"field": "p"}}},
  {"mark": {"type": "text", "style": "lt"}, "encoding": {"x": {"datum": "yes", "bandPosition": 0}, "y": {"datum": 20000}, "text": {"field": "t"}}}
 ]}
]},
{"title": {"text": "Active anti-MM treatment", "fontSize": 5.5}, "width": 80, "height": 120, "layer": [
 {"data": {"name": "L"}, "encoding": {"x": {"field": "g", "type": "nominal", "sort": "descending", "title": null}, "y": {"field": "v", "type": "quantitative", "scale": {"type": "log", "domain": [0.65, 20000], "nice": false}, "axis": {"values": [1, 10, 100, 1000, 10000], "format": "d"}, "title": "anti-S [AU/mL]"}},
  "layer": [{"mark": "boxplot"}, {"transform": [{"window": [{"op": "row_number", "as": "r"}], "groupby": ["g"]}, {"window": [{"op": "percent_rank", "as": "jit"}], "sort": [{"field": "r"}], "groupby": ["g"]}], "mark": "circle", "encoding": {"xOffset": {"field": "jit", "type": "quantitative", "scale": {"domain": [-0.22, 1.22]}}, "color": {"field": "g", "type": "nominal", "legend": null}, "stroke": {"field": "g", "type": "nominal", "legend": null}}}]},
 {"data": {"values": [{"p": "0.0084", "t": "L"}]}, "layer": [
  {"mark": {"type": "rule", "style": "br"}, "encoding": {"x": {"datum": "yes"}, "x2": {"datum": "no"}, "y": {"datum": 12500}}},
  {"mark": {"type": "rule", "style": "br"}, "encoding": {"x": {"datum": "yes"}, "y": {"datum": 12500}, "y2": {"datum": 9600}}},
  {"mark": {"type": "rule", "style": "br"}, "encoding": {"x": {"datum": "no"}, "y": {"datum": 12500}, "y2": {"datum": 9600}}},
  {"mark": {"type": "text", "style": "pv"}, "encoding": {"x": {"datum": "yes", "bandPosition": 1}, "y": {"datum": 12500}, "text": {"field": "p"}}},
  {"mark": {"type": "text", "style": "lt"}, "encoding": {"x": {"datum": "yes", "bandPosition": 0}, "y": {"datum": 20000}, "text": {"field": "t"}}}
 ]}
]}
]}
]
}
